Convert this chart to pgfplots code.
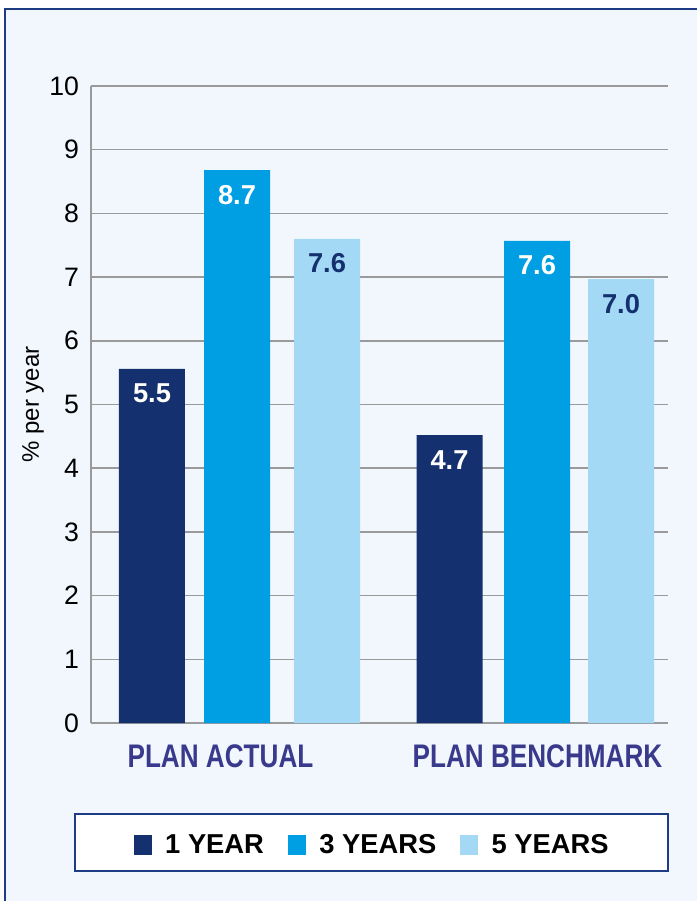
\documentclass[border=0pt]{standalone}
\usepackage{pgfplots}
\pgfplotsset{compat=1.18}
\usepackage{fontspec}
\setmainfont{Liberation Sans}
\newfontfamily\condfont[FakeStretch=0.8]{Liberation Sans}
\definecolor{bgcol}{HTML}{F2F7FD}
\definecolor{framecol}{HTML}{1E3C84}
\definecolor{cA}{HTML}{14306E}
\definecolor{cB}{HTML}{009FE3}
\definecolor{cC}{HTML}{A3D9F5}
\definecolor{catcol}{HTML}{3A3A8C}
\definecolor{gridcol}{HTML}{9A9A9A}
\begin{document}
\begin{tikzpicture}
\begin{scope}[x=0.75pt,y=0.75pt]
\useasboundingbox (0,0) rectangle (697,901);
\fill[white] (0,0) rectangle (697,901);
\fill[bgcol] (5,892) rectangle (720,-20);
\draw[framecol, line width=2pt] (5,892) rectangle (720,-20);
\draw[framecol, fill=white, line width=1pt] (75,87) rectangle (668,30);
\end{scope}
\begin{axis}[
  at={(68.25pt,133.5pt)}, anchor=south west,
  scale only axis, width=432.75pt, height=477.75pt,
  xmin=91, xmax=668, ymin=0, ymax=10,
  ybar, bar width=66, bar shift=0,
  axis x line*=bottom, axis y line*=left,
  axis line style={gridcol, line width=1.2pt, -},
  ytick={0,...,10}, major tick length=0pt,
  ymajorgrids, grid style={gridcol, line width=1.2pt},
  xtick={220.5,537.5},
  xticklabels={PLAN ACTUAL, PLAN BENCHMARK},
  xticklabel style={font=\condfont\bfseries\fontsize{24.5}{28}\selectfont, text=catcol, yshift=-12.5pt},
  yticklabel style={font=\fontsize{20}{24}\selectfont, xshift=-5.5pt},
  /pgf/number format/assume math mode=true,
  ylabel={\% per year},
  ylabel style={font=\fontsize{18}{22}\selectfont, at={(axis description cs:0,0.5)}, anchor=center, yshift=43.5pt},
  nodes near coords,
  point meta=explicit symbolic,
  every node near coord/.append style={anchor=center, yshift=-18.5pt, font=\bfseries\fontsize{20.5}{24}\selectfont},
  legend style={at={(0.488,-0.1915)}, anchor=center, draw=none, fill=none,
    font=\bfseries\fontsize{20.5}{24}\selectfont, legend columns=3,
    /tikz/every odd column/.append style={column sep=8pt},
    /tikz/every even column/.append style={column sep=16pt}},
  legend image code/.code={\fill[#1] (0pt,-7.5pt) rectangle (13.5pt,7.5pt);},
  clip=false,
]
\addplot[fill=cA, draw=none, every node near coord/.append style={text=white}] table[meta=lab] {
x y lab
152 5.56 5.5
449.5 4.52 4.7
};
\addlegendentry{1 YEAR}
\addplot[fill=cB, draw=none, every node near coord/.append style={text=white}] table[meta=lab] {
x y lab
237 8.68 8.7
537 7.57 7.6
};
\addlegendentry{3 YEARS}
\addplot[fill=cC, draw=none, every node near coord/.append style={text=cA}] table[meta=lab] {
x y lab
327 7.60 7.6
621 6.97 7.0
};
\addlegendentry{5 YEARS}
\end{axis}
\end{tikzpicture}
\end{document}
